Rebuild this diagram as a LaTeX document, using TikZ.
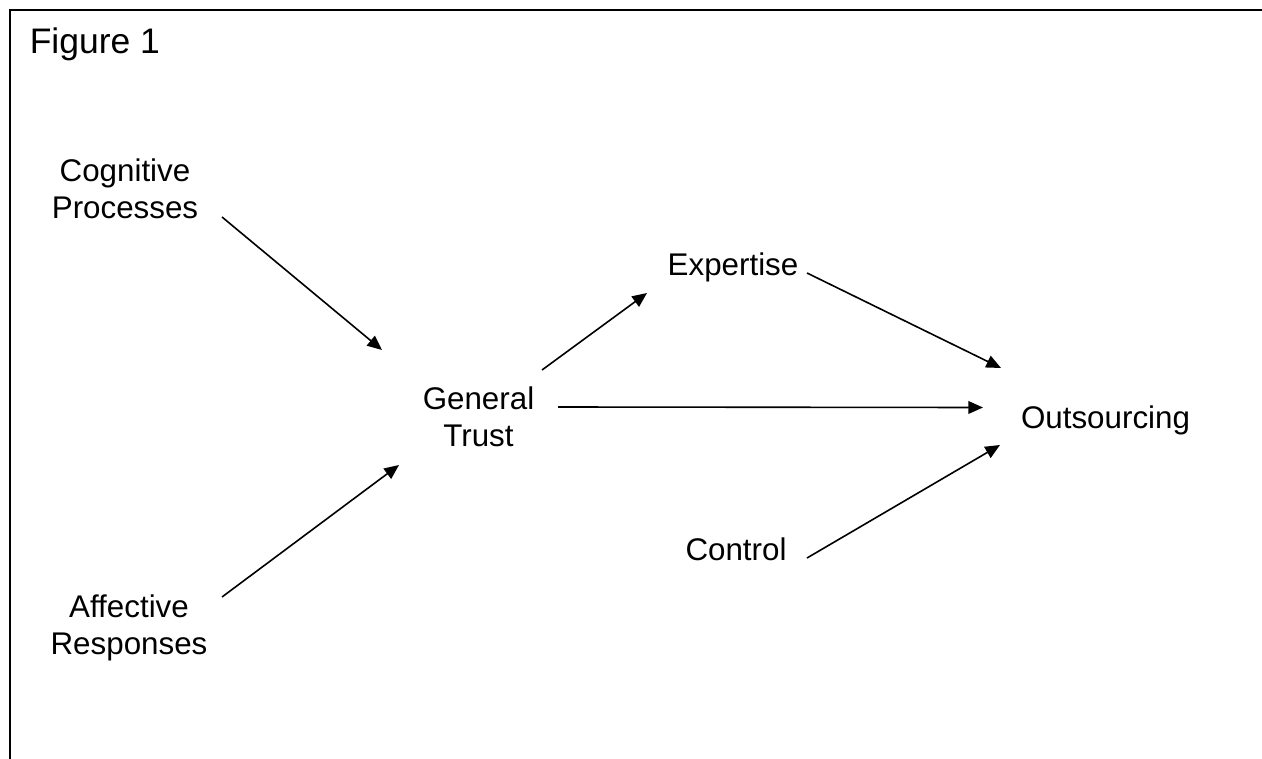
\documentclass[tikz,border=0pt]{standalone}
\usepackage{fontspec}
\setmainfont{Liberation Sans}
\usetikzlibrary{arrows.meta}
\newcommand\labfont{\fontsize{23.5pt}{27.75pt}\selectfont}
\newcommand\figfont{\fontsize{26.6pt}{31pt}\selectfont}
\newcommand\tp{\rule{0pt}{19.5pt}}
\tikzset{
  lbl/.style={font=\labfont, align=center, inner sep=0pt, outer sep=0pt},
  arr/.style={line width=1.2pt, -{Triangle[length=11pt,width=9.5pt]}},
  frame/.style={line width=1.5pt}
}
\begin{document}
\begin{tikzpicture}[x=0.75pt, y=-0.75pt]
  \useasboundingbox (0,0) rectangle (1262,759);
  \draw[frame] (9.5,759) -- (9.5,10) -- (1262,10);
  \node[font=\figfont, inner sep=0pt, anchor=base west] (fig) at (29.5,54) {Figure 1};
  \node[lbl, anchor=north] (cog) at (125,155.5) {\tp Cognitive\\Processes};
  \node[lbl, anchor=north] (aff) at (129,591.5) {\tp Affective\\Responses};
  \node[lbl, anchor=north] (gt) at (478.5,383) {\tp General\\Trust};
  \node[lbl, anchor=base] (exp) at (733,275) {Expertise};
  \node[lbl, anchor=base] (ctrl) at (736,560) {Control};
  \node[lbl, anchor=base] (out) at (1105.5,428) {Outsourcing};
  \draw[arr] ([shift={(97,61.5)}]cog.north) -- ([shift={(-96.5,-33)}]gt.north);
  \draw[arr] ([shift={(93,5.5)}]aff.north) -- ([shift={(-79.5,82)}]gt.north);
  \draw[arr] ([shift={(63.5,-13)}]gt.north) -- ([shift={(-86,18)}]exp.base);
  \draw[arr] ([shift={(79.5,24)}]gt.north) -- ([shift={(-122.5,-20.5)}]out.base);
  \draw[arr] ([shift={(74,-2)}]exp.base) -- ([shift={(-104.5,-60)}]out.base);
  \draw[arr] ([shift={(71,-2)}]ctrl.base) -- ([shift={(-105.5,17)}]out.base);
\end{tikzpicture}
\end{document}
